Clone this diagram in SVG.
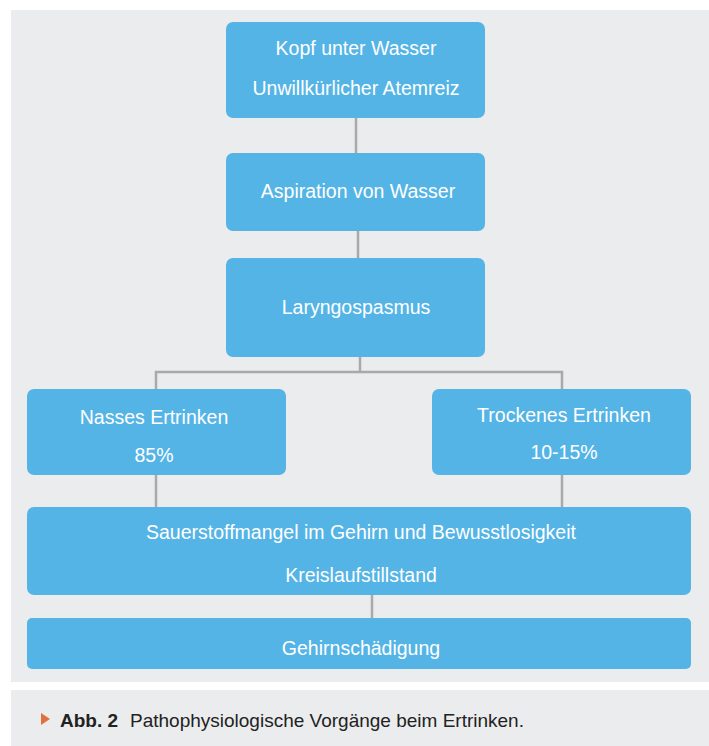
<svg xmlns="http://www.w3.org/2000/svg" width="709" height="746" viewBox="0 0 709 746">
<style>
.bg{fill:#ebeced}
.node{fill:#55b4e6}
.t{font-family:"Liberation Sans",Arial,sans-serif;font-size:19.5px;fill:#ffffff;text-anchor:middle}
.c{stroke:#a9a9a9;stroke-width:2.5;fill:none}
.cap{font-family:"Liberation Sans",Arial,sans-serif;font-size:19px;fill:#222222}
</style>
<rect x="0" y="0" width="709" height="746" fill="#ffffff"/>
<rect class="bg" x="11" y="10" width="698" height="672"/>
<rect class="bg" x="11" y="690" width="698" height="56"/>
<g id="connectors">
<line class="c" x1="356" y1="118" x2="356" y2="153"/>
<line class="c" x1="358" y1="231" x2="358" y2="258"/>
<polyline class="c" points="360,357 360,372"/>
<polyline class="c" points="156,389 156,372 562,372 562,389"/>
<line class="c" x1="156" y1="475" x2="156" y2="507"/>
<line class="c" x1="562" y1="475" x2="562" y2="507"/>
<line class="c" x1="372" y1="595" x2="372" y2="618"/>
</g>
<g id="n1">
<rect class="node" x="226" y="22" width="259" height="96" rx="7"/>
<text class="t" x="356" y="55">Kopf unter Wasser</text>
<text class="t" x="356" y="95">Unwillkürlicher Atemreiz</text>
</g>
<g id="n2">
<rect class="node" x="226" y="153" width="259" height="78" rx="7"/>
<text class="t" x="358" y="198">Aspiration von Wasser</text>
</g>
<g id="n3">
<rect class="node" x="226" y="258" width="259" height="99" rx="7"/>
<text class="t" x="356" y="314">Laryngospasmus</text>
</g>
<g id="n4">
<rect class="node" x="27" y="389" width="259" height="86" rx="7"/>
<text class="t" x="154" y="424">Nasses Ertrinken</text>
<text class="t" x="154" y="462">85%</text>
</g>
<g id="n5">
<rect class="node" x="432" y="389" width="259" height="86" rx="7"/>
<text class="t" x="564" y="422">Trockenes Ertrinken</text>
<text class="t" x="564" y="459">10-15%</text>
</g>
<g id="n6">
<rect class="node" x="27" y="507" width="664" height="88" rx="7"/>
<text class="t" x="361" y="539">Sauerstoffmangel im Gehirn und Bewusstlosigkeit</text>
<text class="t" x="361" y="582">Kreislaufstillstand</text>
</g>
<g id="n7">
<rect class="node" x="27" y="618" width="664" height="51" rx="5"/>
<text class="t" x="361" y="655">Gehirnschädigung</text>
</g>
<g id="caption">
<polygon points="41,713 50,719 41,725" fill="#e0703e"/>
<text class="cap" x="60" y="727"><tspan font-weight="bold">Abb. 2</tspan><tspan x="130">Pathophysiologische Vorgänge beim Ertrinken.</tspan></text>
</g>
</svg>
